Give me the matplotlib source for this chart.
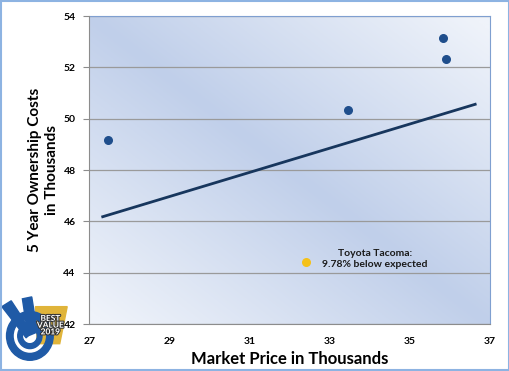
import numpy as np
import matplotlib as mpl
mpl.use('Agg')
import matplotlib.pyplot as plt
from matplotlib.patches import Polygon, Rectangle, Wedge
import matplotlib.patheffects as pe

plt.rcParams['font.family'] = ['Lato', 'DejaVu Sans']

# data
price = [27.46, 33.45, 35.83, 35.90]
cost = [49.17, 50.34, 53.14, 52.32]
tacoma_price = [32.41]
tacoma_cost = [44.42]
trend_x = [27.33, 36.63]
trend_y = [46.18, 50.56]
xticks = [27, 29, 31, 33, 35, 37]
yticks = [42, 44, 46, 48, 50, 52, 54]

fig = plt.figure(figsize=(5.10, 3.71), dpi=100)
ax = fig.add_axes([89.5/510, 1 - 324/371, (490 - 89.5)/510, (324 - 16)/371])

# reflected diagonal gradient background
n = 200
u, v = np.meshgrid(np.linspace(0, 1, n), np.linspace(0, 1, n))
t = np.clip(np.abs(u - v) * 1.05, 0, 1)
dark = np.array([0xc0, 0xcf, 0xea]) / 255
light = np.array([0xef, 0xf3, 0xfa]) / 255
img = dark[None, None, :] * (1 - t[..., None]) + light[None, None, :] * t[..., None]
ax.imshow(img, extent=[0, 1, 0, 1], transform=ax.transAxes, aspect='auto', zorder=0)

ax.set_xlim(27, 37)
ax.set_ylim(42, 54)
ax.set_xticks(xticks)
ax.set_yticks(yticks)
ax.yaxis.grid(True, color='#9a9a9a', lw=0.9, zorder=1)
ax.set_axisbelow(True)

ax.plot(trend_x, trend_y, color='#17365d', lw=2, zorder=3)
ax.scatter(price, cost, s=30, color='#1f4e8c', zorder=4)
ax.scatter(tacoma_price, tacoma_cost, s=30, color='#f5c118', zorder=4)
ax.text(34.13, 44.55, 'Toyota Tacoma:\n9.78% below expected', fontsize=7.5, fontweight='bold',
        color='#1a1a1a', ha='center', va='center', multialignment='center', linespacing=1.3)

for s in ['top', 'right']:
    ax.spines[s].set_color('#7f9fd0')
for s in ['left', 'bottom']:
    ax.spines[s].set_color('#8c8c8c')
ax.tick_params(axis='y', length=4, color='#8c8c8c', labelsize=7.5, pad=6)
ax.tick_params(axis='x', length=0, labelsize=7.5, pad=9)
for lab in ax.get_xticklabels() + ax.get_yticklabels():
    lab.set_fontweight('bold')

ax.set_xlabel('Market Price in Thousands', fontsize=12, fontweight='bold', labelpad=4)
ax.set_ylabel('5 Year Ownership Costs\nin Thousands', fontsize=11, fontweight='bold',
              labelpad=3, linespacing=1.3)

# outer border
fig.patches.append(Rectangle((0.002, 0.003), 0.996, 0.994, transform=fig.transFigure,
                             fill=False, ec='#8db3e2', lw=1.5))

# simplified badge logo
lg = fig.add_axes([0, 0, 70/510, 78/371])
lg.set_xlim(0, 75)
lg.set_ylim(0, 80)
lg.axis('off')
lg.add_patch(Polygon([[38, 66], [72, 66], [64, 28], [40, 28]], color='#e0b43a'))
lg.add_patch(Wedge((32, 36), 25, 0, 360, width=7, color='#1f5aa6'))
lg.add_patch(Wedge((32, 36), 13, 0, 360, width=5, color='#1f5aa6'))
lg.add_patch(Polygon([[2, 66], [12, 72], [34, 40], [28, 34]], color='#1f5aa6'))
lg.add_patch(Polygon([[24, 74], [34, 76], [40, 40], [30, 36]], color='#1f5aa6'))
lg.text(54, 47, 'BEST\nVALUE\n2019', color='white', fontsize=6, fontweight='bold',
        ha='center', va='center', linespacing=0.95,
        path_effects=[pe.withStroke(linewidth=1.5, foreground='#333333')])

fig.savefig('out.png', dpi=100)
